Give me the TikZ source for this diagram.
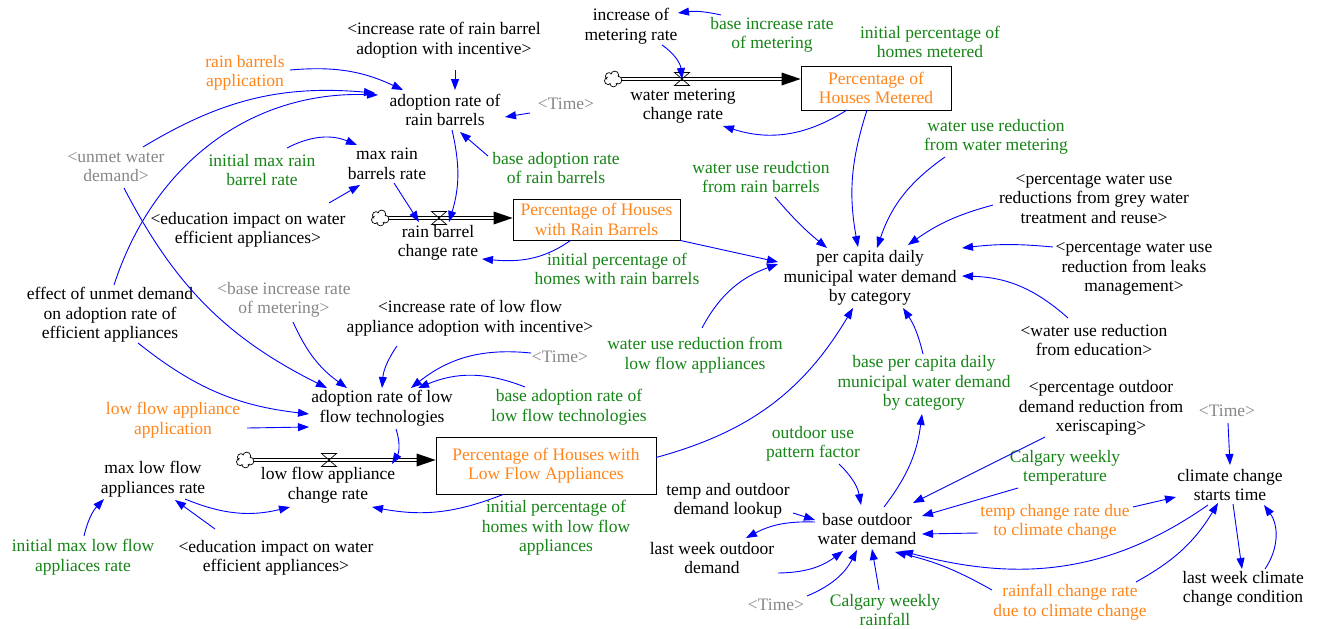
\documentclass[tikz,border=0pt]{standalone}
\usepackage{fontspec}
\setmainfont{Liberation Serif}
\usetikzlibrary{arrows.meta}

\definecolor{linkblue}{RGB}{0,0,255}
\definecolor{inputorange}{RGB}{255,133,27}
\definecolor{constgreen}{RGB}{22,132,22}
\definecolor{shadowgrey}{RGB}{135,135,135}

\begin{document}
\begin{tikzpicture}[x=1pt,y=-1pt,
  every node/.style={font=\fontsize{17.5}{19.5}\selectfont, align=center, inner sep=1pt},
  var/.style={text=black},
  const/.style={text=constgreen},
  input/.style={text=inputorange},
  shadow/.style={text=shadowgrey},
  stock/.style={draw=black, line width=0.8pt, text=inputorange, inner sep=0pt},
  lk/.style={draw=linkblue, line width=0.9pt, -{Triangle[length=11pt,width=8pt]}, fill=none},
  pipe/.style={draw=black, line width=0.7pt, double=white, double distance=2.6pt},
  source/.style={minimum width=17pt, minimum height=13pt, inner sep=0pt},
  cloudline/.style={draw=black, line width=0.7pt},
  valveshape/.style={draw=black, line width=0.7pt, fill=none}
]
\useasboundingbox (0,0) rectangle (1320,629);

% ---------------- rain barrels sector ----------------
\node[var]    (incRB)     at (444,40)  {<increase rate of rain barrel\\adoption with incentive>};
\node[input]  (rbApp)     at (245,73)  {rain barrels\\application};
\node[var]    (adRB)      at (445,110) {adoption rate of\\rain barrels};
\node[shadow] (timeA)     at (566,104) {<Time>};
\node[shadow] (unmet)     at (116,167) {<unmet water\\demand>};
\node[const]  (initMaxRB) at (262,170) {initial max rain\\barrel rate};
\node[var]    (maxRB)     at (387,164) {max rain\\barrels rate};
\node[const]  (baseAdRB)  at (556,168) {base adoption rate\\of rain barrels};
\node[var]    (eduA)      at (248,230) {<education impact on water\\efficient appliances>};
\node[var]    (rbRate)    at (438,243) {rain barrel\\change rate};
\node[stock, minimum width=167pt, minimum height=41pt] (boxRB) at (596.5,219.5) {Percentage of Houses\\with Rain Barrels};
\node[const]  (initRB)    at (617,269) {initial percentage of\\homes with rain barrels};

% ---------------- metering sector ----------------
\node[var]    (incMet)     at (631,26)  {increase of\\metering rate};
\node[const]  (baseIncMet) at (772,35)  {base increase rate\\of metering};
\node[const]  (initMet)    at (930,42)  {initial percentage of\\homes metered};
\node[var]    (metRate)    at (683,106) {water metering\\change rate};
\node[stock, minimum width=150pt, minimum height=44pt] (boxMet) at (876,88) {Percentage of\\Houses Metered};
\node[const]  (wurMet)     at (996,137) {water use reduction\\from water metering};
\node[const]  (wurRB)      at (761,177) {water use reudction\\from rain barrels};
\node[var]    (grey)       at (1094,199) {<percentage water use\\reductions from grey water\\treatment and reuse>};
\node[var]    (pcd)        at (870,278) {per capita daily\\municipal water demand\\by category};
\node[var]    (leaks)      at (1134,269) {<percentage water use\\reduction from leaks\\management>};

% ---------------- low flow sector ----------------
\node[var]    (effect)        at (110,315) {effect of unmet demand\\on adoption rate of\\efficient appliances};
\node[shadow] (baseIncMetRef) at (284,300) {<base increase rate\\of metering>};
\node[var]    (incLF)         at (470,318) {<increase rate of low flow\\appliance adoption with incentive>};
\node[const]  (wurLF)         at (695,355) {water use reduction from\\low flow appliances};
\node[var]    (eduRef)        at (1094,340) {<water use reduction\\from education>};
\node[shadow] (timeB)         at (560,357) {<Time>};
\node[var]    (adLF)          at (382,408) {adoption rate of low\\flow technologies};
\node[const]  (baseAdLF)      at (569,407) {base adoption rate of\\low flow technologies};
\node[input]  (lfApp)         at (173,420) {low flow appliance\\application};
\node[stock, minimum width=220pt, minimum height=57pt] (boxLF) at (546,465.5) {Percentage of Houses with\\Low Flow Appliances};
\node[var]    (lfRate)        at (328,485) {low flow appliance\\change rate};
\node[var]    (maxLF)         at (153,479) {max low flow\\appliances rate};
\node[const]  (initLF)        at (556,528) {initial percentage of\\homes with low flow\\appliances};
\node[const]  (initMaxLF)     at (83,557)  {initial max low flow\\appliaces rate};
\node[var]    (eduB)          at (276,558) {<education impact on water\\efficient appliances>};

% ---------------- outdoor demand sector ----------------
\node[const]  (basePCD)  at (924,383)  {base per capita daily\\municipal water demand\\by category};
\node[var]    (xeri)     at (1101,408) {<percentage outdoor\\demand reduction from\\xeriscaping>};
\node[shadow] (timeC)    at (1227,411) {<Time>};
\node[const]  (outPat)   at (813,444)  {outdoor use\\pattern factor};
\node[const]  (calTemp)  at (1065,468) {Calgary weekly\\temperature};
\node[var]    (ccStart)  at (1230,485) {climate change\\starts time};
\node[var]    (tempLook) at (728,501)  {temp and outdoor\\demand lookup};
\node[var]    (bod)      at (867,529)  {base outdoor\\water demand};
\node[input]  (tempCC)   at (1055,522) {temp change rate due\\to climate change};
\node[var]    (lastOut)  at (712,558)  {last week outdoor\\demand};
\node[var]    (lastCC)   at (1243,589) {last week climate\\change condition};
\node[shadow] (timeD)    at (776,605)  {<Time>};
\node[const]  (calRain)  at (885,610)  {Calgary weekly\\rainfall};
\node[input]  (rainCC)   at (1070,602) {rainfall change rate\\due to climate change};

% ---------------- flows: sources, pipes, valves ----------------
\node[source] (cloudRB)  at (380,218) {};
\node[source] (cloudMet) at (613,79)  {};
\node[source] (cloudLF)  at (245,460) {};
\coordinate (rbV)  at (439,218);
\coordinate (metV) at (682,79);
\coordinate (lfV)  at (329,460);
\coordinate (rbTip)  at (cloudRB -| boxRB.west);
\coordinate (metTip) at (cloudMet -| boxMet.west);
\coordinate (lfTip)  at (cloudLF -| boxLF.west);

\draw[pipe] ([xshift=-2pt]cloudRB.east) -- ([xshift=-16pt]rbTip);
\draw[pipe] ([xshift=-2pt]cloudMet.east) -- ([xshift=-16pt]metTip);
\draw[pipe] ([xshift=-2pt]cloudLF.east) -- ([xshift=-16pt]lfTip);
\fill[black] (rbTip) -- ++(-19,-6.5) -- ++(0,13) -- cycle;
\fill[black] (metTip) -- ++(-19,-6.5) -- ++(0,13) -- cycle;
\fill[black] (lfTip) -- ++(-19,-6.5) -- ++(0,13) -- cycle;

% cloud outlines: a ring of puffs, with the inside blanked out
\foreach \c in {cloudRB,cloudMet,cloudLF}{
  \fill[white] (\c.center) ellipse[x radius=8.5, y radius=7.5];
  \foreach \a/\r in {15/3.9,85/3.6,155/3.8,220/3.6,290/3.9}{
    \draw[cloudline] ([shift={(\a:5.2 and 4.3)}]\c.center) circle[radius=\r];
  }
  \fill[white] (\c.center) ellipse[x radius=5.9, y radius=5.0];
}
\foreach \v in {rbV,metV,lfV}{
  \draw[valveshape] ([shift={(-7.5,-6.5)}]\v) -- ++(15,0) -- ++(-15,13) -- ++(15,0) -- cycle;
}

% ---------------- links: rain barrels ----------------
\draw[lk] ([shift={(45,-3)}]rbApp.center) to[bend left=15] ([shift={(-42,-20)}]adRB.center);
\draw[lk] ([shift={(27,-20)}]unmet.center) to[bend left=18] ([shift={(-70,-17)}]adRB.center);
\draw[lk] ([shift={(4,-30)}]effect.center) to[out=72,in=178] ([shift={(-67,-15)}]adRB.center);
\draw[lk] ([shift={(25,-22)}]initMaxRB.center) to[bend left=25] ([shift={(-30,-19)}]maxRB.center);
\draw[lk] ([shift={(81,-27)}]eduA.center) -- ([shift={(-27,21)}]maxRB.center);
\draw[lk] ([shift={(11,30)}]incRB.center) -- ([shift={(10,-20)}]adRB.center);
\draw[lk] ([shift={(-36,9)}]timeA.center) -- ([shift={(60,7)}]adRB.center);
\draw[lk] ([shift={(-68,-12)}]baseAdRB.center) -- ([shift={(15,22)}]adRB.center);
\draw[lk] ([shift={(7,20)}]adRB.center) to[bend left=15] ([shift={(11,-21)}]rbRate.center);
\draw[lk] ([shift={(7,19)}]maxRB.center) -- ([shift={(-19,-21)}]rbRate.center);
\draw[lk] ([shift={(-26,21)}]boxRB.center) to[out=215,in=355] ([shift={(44,16)}]rbRate.center);
\draw[lk] ([shift={(84,21)}]boxRB.center) -- ([shift={(-92,-16)}]pcd.center);

% ---------------- links: per capita demand ----------------
\draw[lk] ([shift={(110,-8)}]boxLF.center) to[bend right=22] ([shift={(-17,30)}]pcd.center);
\draw[lk] ([shift={(7,-27)}]wurLF.center) to[out=62,in=200] ([shift={(-92,-14)}]pcd.center);
\draw[lk] ([shift={(14,20)}]wurRB.center) to[bend right=5] ([shift={(-43,-30)}]pcd.center);
\draw[lk] ([shift={(-9,22)}]boxMet.center) to[bend right=14] ([shift={(-12,-31)}]pcd.center);
\draw[lk] ([shift={(-51,20)}]wurMet.center) to[bend right=18] ([shift={(7,-30)}]pcd.center);
\draw[lk] ([shift={(-101,6)}]grey.center) to[bend right=10] ([shift={(38,-33)}]pcd.center);
\draw[lk] ([shift={(-81,-22)}]leaks.center) to[bend right=6] ([shift={(92,-30)}]pcd.center);
\draw[lk] ([shift={(-26,-22)}]eduRef.center) to[bend right=20] ([shift={(92,-2)}]pcd.center);
\draw[lk] ([shift={(-1,-29)}]basePCD.center) to[bend right=10] ([shift={(33,30)}]pcd.center);

% ---------------- links: metering ----------------
\draw[lk] ([shift={(-29,22)}]boxMet.center) to[bend left=25] ([shift={(40,20)}]metRate.center);
\draw[lk] ([shift={(31,19)}]incMet.center) to[bend left=25] (metV);
\draw[lk] ([shift={(-51,-20)}]baseIncMet.center) to[bend right=10] ([shift={(47,-13)}]incMet.center);

% ---------------- links: low flow ----------------
\draw[lk] ([shift={(8,21)}]unmet.center) to[bend right=18] ([shift={(-55,-20)}]adLF.center);
\draw[lk] ([shift={(9,22)}]baseIncMetRef.center) to[bend right=15] ([shift={(-35,-20)}]adLF.center);
\draw[lk] ([shift={(28,28)}]effect.center) to[bend right=16] ([shift={(-73,6)}]adLF.center);
\draw[lk] ([shift={(74,8)}]lfApp.center) -- ([shift={(-73,19)}]adLF.center);
\draw[lk] ([shift={(-73,28)}]incLF.center) to[bend right=15] ([shift={(0,-20)}]adLF.center);
\draw[lk] ([shift={(-29,-4)}]timeB.center) to[bend right=22] ([shift={(29,-20)}]adLF.center);
\draw[lk] ([shift={(-44,-20)}]baseAdLF.center) to[bend right=22] ([shift={(36,-20)}]adLF.center);
\draw[lk] ([shift={(14,21)}]adLF.center) to[bend left=25] ([shift={(64,-21)}]lfRate.center);
\draw[lk] ([shift={(-43,29)}]boxLF.center) to[bend left=16] ([shift={(44,22)}]lfRate.center);
\draw[lk] ([shift={(32,20)}]maxLF.center) to[bend right=18] ([shift={(-38,22)}]lfRate.center);
\draw[lk] ([shift={(1,-21)}]initMaxLF.center) to[bend left=15] ([shift={(-49,20)}]maxLF.center);
\draw[lk] ([shift={(-61,-29)}]eduB.center) -- ([shift={(22,21)}]maxLF.center);

% ---------------- links: outdoor demand ----------------
\draw[lk] ([shift={(17,-22)}]bod.center) to[bend right=15] ([shift={(-2,31)}]basePCD.center);
\draw[lk] ([shift={(26,20)}]outPat.center) to[bend left=18] ([shift={(-6,-24)}]bod.center);
\draw[lk] ([shift={(65,12)}]tempLook.center) -- ([shift={(-52,-9)}]bod.center);
\draw[lk] ([shift={(-52,-7)}]bod.center) to[bend right=15] ([shift={(34,-20)}]lastOut.center);
\draw[lk] ([shift={(66,15)}]lastOut.center) to[bend right=18] ([shift={(-24,22)}]bod.center);
\draw[lk] ([shift={(31,-9)}]timeD.center) to[bend right=20] ([shift={(-10,21)}]bod.center);
\draw[lk] ([shift={(-6,-20)}]calRain.center) -- ([shift={(5,20)}]bod.center);
\draw[lk] ([shift={(-56,29)}]xeri.center) -- ([shift={(46,-26)}]bod.center);
\draw[lk] ([shift={(-47,20)}]calTemp.center) -- ([shift={(55,-13)}]bod.center);
\draw[lk] ([shift={(-77,11)}]tempCC.center) -- ([shift={(55,5)}]bod.center);
\draw[lk] ([shift={(78,-15)}]tempCC.center) -- ([shift={(-54,12)}]ccStart.center);
\draw[lk] ([shift={(-22,20)}]ccStart.center) to[out=215,in=345] ([shift={(35,22)}]bod.center);
\draw[lk] ([shift={(-78,-12)}]rainCC.center) to[bend right=8] ([shift={(28,23)}]bod.center);
\draw[lk] ([shift={(66,-20)}]rainCC.center) to[bend right=15] ([shift={(-12,18)}]ccStart.center);
\draw[lk] ([shift={(1,12)}]timeC.center) -- ([shift={(0,-20)}]ccStart.center);
\draw[lk] ([shift={(3,19)}]ccStart.center) -- ([shift={(-1,-20)}]lastCC.center);
\draw[lk] ([shift={(22,-20)}]lastCC.center) to[bend right=35] ([shift={(34,20)}]ccStart.center);

\end{tikzpicture}
\end{document}
